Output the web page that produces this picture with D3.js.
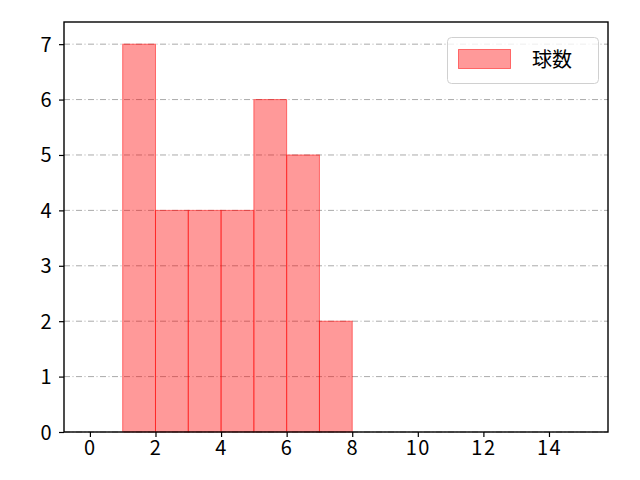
<html>
<script src='https://d3js.org/d3.v7.min.js'></script>
<style>
body { margin: 0; background: #fff; }
text { font-family: 'Noto Sans CJK JP', 'DejaVu Sans', sans-serif; }
</style>
<body>
<svg width=640 height=480></svg>
<script>
const binStarts = [1, 2, 3, 4, 5, 6, 7];
const binEnds = [2, 3, 4, 5, 6, 7, 8];
const counts = [7, 4, 4, 4, 6, 5, 2];
const xTicks = [0, 2, 4, 6, 8, 10, 12, 14];
const yTicks = [0, 1, 2, 3, 4, 5, 6, 7];
const seriesName = '球数';

const plotLeft = 64, plotRight = 608, plotTop = 22, plotBottom = 432;

const x = d3.scaleLinear().domain([-0.79, 15.8]).range([plotLeft, plotRight]);
const y = d3.scaleLinear().domain([0, 7.4]).range([plotBottom, plotTop]);

const svg = d3.select('svg');

// grid
svg.append('g').selectAll('line')
  .data(yTicks)
  .enter().append('line')
    .attr('x1', plotLeft).attr('x2', plotRight)
    .attr('y1', d => y(d)).attr('y2', d => y(d))
    .attr('stroke', '#aaaaaa').attr('stroke-width', 1)
    .attr('stroke-dasharray', '6,2.5,1,2.5');

// bars
svg.append('g').selectAll('rect')
  .data(counts)
  .enter().append('rect')
    .attr('x', (d, i) => x(binStarts[i]))
    .attr('width', (d, i) => x(binEnds[i]) - x(binStarts[i]))
    .attr('y', d => y(d))
    .attr('height', d => y(0) - y(d))
    .attr('fill', 'rgba(255,0,0,0.4)')
    .attr('stroke', 'rgba(255,0,0,0.5)')
    .attr('stroke-width', 1);

// axes
const xAxis = d3.axisBottom(x).tickValues(xTicks).tickSize(5).tickPadding(4);
const yAxis = d3.axisLeft(y).tickValues(yTicks).tickSize(5).tickPadding(6);

const gx = svg.append('g').attr('transform', 'translate(0,' + plotBottom + ')').call(xAxis);
const gy = svg.append('g').attr('transform', 'translate(' + plotLeft + ',0)').call(yAxis);
[gx, gy].forEach(g => {
  g.select('.domain').remove();
  g.selectAll('.tick line').attr('stroke', '#000').attr('stroke-width', 1.2);
  g.selectAll('.tick text').attr('font-size', 20).attr('fill', '#000')
    .style('font-family', "'Noto Sans CJK JP', sans-serif")
    .style('letter-spacing', '1.5px');
});
gy.selectAll('.tick text').attr('dy', '0.35em');

// frame
svg.append('rect')
  .attr('x', plotLeft).attr('y', plotTop)
  .attr('width', plotRight - plotLeft).attr('height', plotBottom - plotTop)
  .attr('fill', 'none').attr('stroke', '#000').attr('stroke-width', 1.4);

// legend
const lg = svg.append('g');
lg.append('rect')
  .attr('x', 447.5).attr('y', 37.5).attr('width', 151).attr('height', 46)
  .attr('rx', 4).attr('fill', 'rgba(255,255,255,0.8)')
  .attr('stroke', '#d0d0d0').attr('stroke-width', 1);
lg.append('rect')
  .attr('x', 458.5).attr('y', 49.5).attr('width', 52).attr('height', 19)
  .attr('fill', 'rgba(255,0,0,0.4)').attr('stroke', 'rgba(255,0,0,0.5)');
lg.append('text')
  .attr('x', 532).attr('y', 67)
  .attr('font-size', 20).attr('fill', '#000')
  .text(seriesName);
</script>
</body>
</html>
